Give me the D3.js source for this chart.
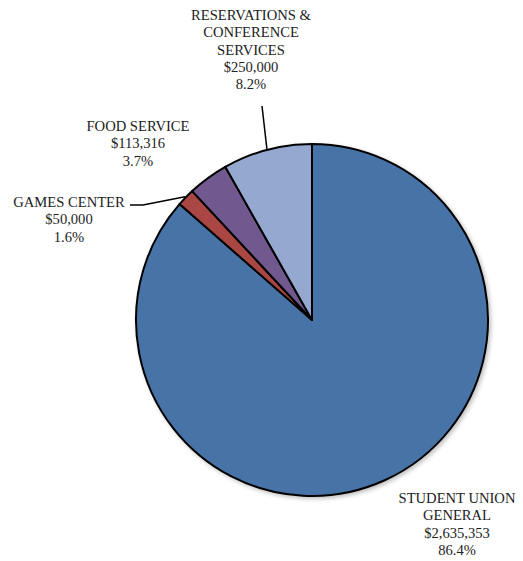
<!DOCTYPE html>
<html>
<head>
<meta charset="utf-8">
<script src="https://cdn.jsdelivr.net/npm/d3@7"></script>
<style>
  html, body { margin: 0; padding: 0; background: #fff; }
  svg text { font-family: "Liberation Serif", "DejaVu Serif", serif; font-size: 14.6px; fill: #222; }
</style>
</head>
<body>
<svg id="chart" width="523" height="561"></svg>
<script>
// Budget split by department
const categories = ["STUDENT UNION GENERAL", "GAMES CENTER", "FOOD SERVICE", "RESERVATIONS & CONFERENCE SERVICES"];
const amounts = [2635353, 50000, 113316, 250000];
const percents = ["86.4%", "1.6%", "3.7%", "8.2%"];
const colors = ["#4673A7", "#AA4644", "#71598F", "#94A8D0"];
// label line breaks
const labelLines = [
  ["STUDENT UNION", "GENERAL"],
  ["GAMES CENTER"],
  ["FOOD SERVICE"],
  ["RESERVATIONS &", "CONFERENCE", "SERVICES"]
];

const svg = d3.select("#chart");
const cx = 312, cy = 320, r = 176;

const data = categories.map((c, i) => ({ name: c, value: amounts[i], pct: percents[i], color: colors[i], lines: labelLines[i] }));

const pie = d3.pie().value(d => d.value).sort(null);
const arc = d3.arc().innerRadius(0).outerRadius(r);
const arcs = pie(data);

const defs = svg.append("defs");
const f = defs.append("filter").attr("id", "shadow").attr("x", "-10%").attr("y", "-10%").attr("width", "120%").attr("height", "120%");
f.append("feGaussianBlur").attr("in", "SourceAlpha").attr("stdDeviation", 2);
f.append("feOffset").attr("dx", 2).attr("dy", 2).attr("result", "b");
f.append("feComponentTransfer").append("feFuncA").attr("type", "linear").attr("slope", 0.25);
const m = f.append("feMerge");
m.append("feMergeNode");
m.append("feMergeNode").attr("in", "SourceGraphic");

const g = svg.append("g").attr("transform", `translate(${cx},${cy})`);
g.append("g").attr("filter", "url(#shadow)")
  .selectAll("path").data(arcs).join("path")
  .attr("d", arc)
  .attr("fill", d => d.data.color)
  .attr("stroke", "#000")
  .attr("stroke-width", 2)
  .attr("stroke-linejoin", "round");

// label anchors (text centre x, first line centre y)
const labelPos = [
  { x: 457, y: 498 },
  { x: 69, y: 202 },
  { x: 138, y: 126 },
  { x: 251, y: 15 }
];
const lh = 17.3;

const fmt = d3.format(",");
arcs.forEach((a, i) => {
  const p = labelPos[i];
  const lines = [...a.data.lines, "$" + fmt(a.data.value), a.data.pct];
  const t = svg.append("text").attr("text-anchor", "middle");
  lines.forEach((ln, k) => {
    t.append("tspan").attr("x", p.x).attr("y", p.y + k * lh).attr("dy", "0.35em").text(ln);
  });
});

// leader lines from slice edges to labels
function edgePoint(a, rr) {
  const ang = (a.startAngle + a.endAngle) / 2;
  return [cx + Math.sin(ang) * rr, cy - Math.cos(ang) * rr];
}
const line = d3.line();
const gp = edgePoint(arcs[1], r + 1);
svg.append("path").attr("d", line([[130, 205], [143, 205], gp]))
  .attr("fill", "none").attr("stroke", "#000").attr("stroke-width", 1.5);
const rp = edgePoint(arcs[3], r + 1);
svg.append("path").attr("d", line([[262, 106], rp]))
  .attr("fill", "none").attr("stroke", "#000").attr("stroke-width", 1.5);
</script>
</body>
</html>
